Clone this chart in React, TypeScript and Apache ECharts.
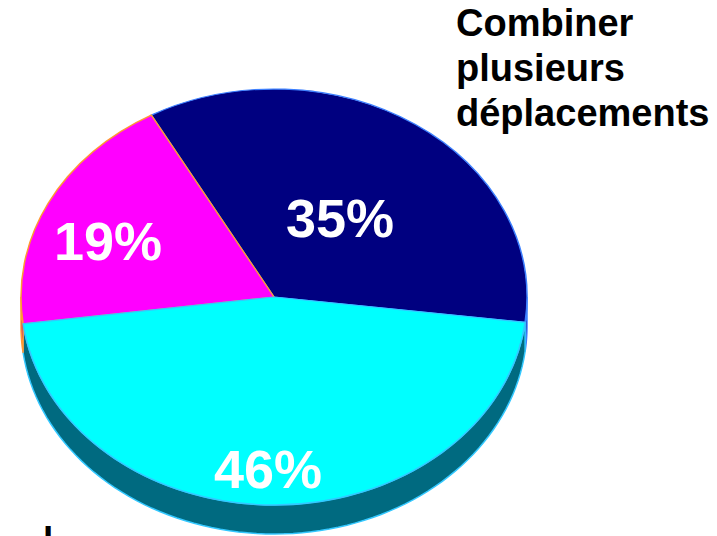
import React, { useEffect, useRef } from "react";
import * as echarts from "echarts";

// ---- data ----
const sliceNames = ["Combiner plusieurs déplacements", "Partie 2", "Partie 3"];
const sliceValues = [35, 46, 19];
const titleLines = ["Combiner", "plusieurs", "déplacements"];
const footerText = "l";

// ---- styles ----
const topColors = ["#000080", "#00ffff", "#ff00ff"];
const sideColors = ["#00004d", "#006a80", "#9a009a"];
const edgeColors = ["#3d80ff", "#33c8ff", "#ff9933"];
const sliceZ = [1, 3, 2];

export default function App() {
  const ref = useRef<HTMLDivElement>(null);
  useEffect(() => {
    document.body.style.margin = "0";
    const chart = echarts.init(ref.current!, null, { renderer: "svg" });
    const CX = 274, CY = 297, RX = 253, RY = 208, DEPTH = 29;
    const START = (-119 * Math.PI) / 180;
    const total = sliceValues.reduce((a, b) => a + b, 0);
    const starts: number[] = [];
    let acc = START;
    sliceValues.forEach((v) => {
      starts.push(acc);
      acc += (v / total) * Math.PI * 2;
    });
    const labelXY = [
      [340, 218],
      [268, 469],
      [108, 241],
    ];

    const renderItem = (params: any, api: any) => {
      const i = params.dataIndex;
      const v = api.value(0);
      const a0 = starts[i];
      const a1 = a0 + (v / total) * 2 * Math.PI;
      const children: any[] = [];
      const s0 = Math.max(a0, 0);
      const s1 = Math.min(a1, Math.PI);
      if (s1 > s0) {
        const pts: number[][] = [];
        const n = 80;
        for (let k = 0; k <= n; k++) {
          const t = s0 + ((s1 - s0) * k) / n;
          pts.push([CX + RX * Math.cos(t), CY + RY * Math.sin(t)]);
        }
        for (let k = n; k >= 0; k--) {
          const t = s0 + ((s1 - s0) * k) / n;
          pts.push([CX + RX * Math.cos(t), CY + RY * Math.sin(t) + DEPTH]);
        }
        children.push({
          type: "polygon",
          z2: 0,
          shape: { points: pts },
          style: { fill: sideColors[i], stroke: edgeColors[i], lineWidth: 1.5 },
        });
      }
      children.push({
        type: "sector",
        x: CX,
        y: CY,
        scaleY: RY / RX,
        z2: sliceZ[i],
        shape: { cx: 0, cy: 0, r: RX, r0: 0, startAngle: a0, endAngle: a1, clockwise: true },
        style: { fill: topColors[i], stroke: edgeColors[i], lineWidth: 1.5 },
      });
      children.push({
        type: "text",
        x: labelXY[i][0],
        y: labelXY[i][1],
        z2: 10,
        style: {
          text: v + "%",
          fill: "#ffffff",
          font: 'bold 54px "Liberation Sans", Arial, sans-serif',
          align: "center",
          verticalAlign: "middle",
        },
      });
      return { type: "group", children };
    };

    chart.setOption({
      animation: false,
      backgroundColor: "#ffffff",
      series: [
        {
          type: "custom",
          coordinateSystem: "none",
          renderItem,
          data: sliceValues.map((v, i) => ({ name: sliceNames[i], value: [v] })),
        },
      ],
      graphic: [
        {
          type: "text",
          left: 456,
          top: 0,
          style: {
            text: titleLines.join("\n"),
            fill: "#000000",
            font: 'bold 38px "Liberation Sans", Arial, sans-serif',
            lineHeight: 45,
          },
        },
        {
          type: "text",
          left: 43,
          top: 518,
          style: {
            text: footerText,
            fill: "#000000",
            font: 'bold 37px "Liberation Sans", Arial, sans-serif',
            lineHeight: 45,
          },
        },
      ],
    });
    return () => chart.dispose();
  }, []);
  return <div ref={ref} style={{ width: 717, height: 536 }} />;
}
